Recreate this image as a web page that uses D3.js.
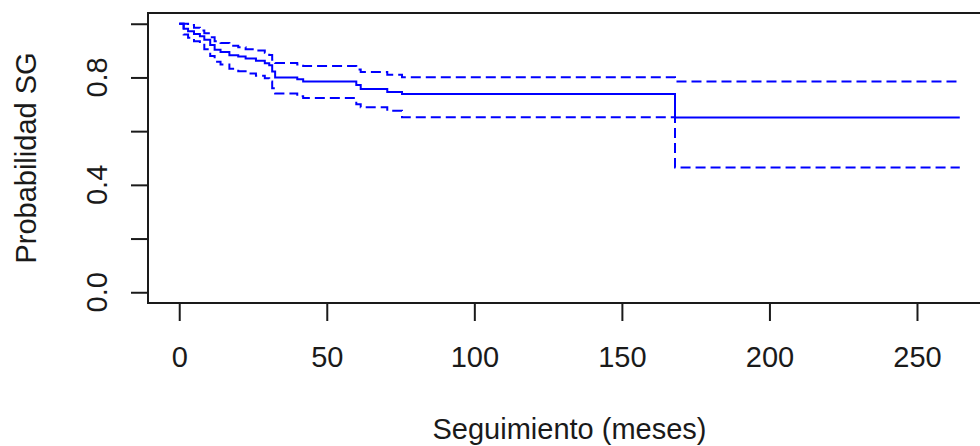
<!DOCTYPE html>
<html>
<head>
<meta charset="utf-8">
<script src="https://cdn.jsdelivr.net/npm/d3@7"></script>
<style>
  html, body { margin: 0; padding: 0; background: #fff; }
  svg { display: block; font-family: "Liberation Sans", Arial, sans-serif; }
</style>
</head>
<body>
<svg id="chart" width="980" height="446"></svg>
<script>
// Kaplan-Meier estimate with 95% CI (step times in months)
const times = [0, 1.5, 3, 5, 7, 8.5, 10.5, 12, 14, 17, 20, 22.5, 26, 29, 30.5, 31.5, 32.5, 40, 42, 60, 61.5, 70.5, 75.5, 168];
const surv  = [1.0, 0.981, 0.972, 0.962, 0.953, 0.940, 0.921, 0.903, 0.895, 0.883, 0.878, 0.871, 0.862, 0.853, 0.845, 0.822, 0.800, 0.793, 0.785, 0.772, 0.757, 0.746, 0.738, 0.651];
const upper = [1.0, 1.0, 0.995, 0.985, 0.975, 0.965, 0.950, 0.935, 0.928, 0.918, 0.912, 0.905, 0.900, 0.892, 0.884, 0.866, 0.854, 0.848, 0.843, 0.830, 0.820, 0.810, 0.801, 0.785];
const lower = [1.0, 0.960, 0.948, 0.935, 0.922, 0.905, 0.880, 0.858, 0.848, 0.832, 0.823, 0.815, 0.806, 0.797, 0.785, 0.760, 0.740, 0.730, 0.723, 0.700, 0.689, 0.676, 0.652, 0.465];
const lastTime = 264.5;

const xTicks = [0, 50, 100, 150, 200, 250];
const yTicks = [0, 0.2, 0.4, 0.6, 0.8, 1.0];
const yTickLabels = { 0: "0.0", 0.4: "0.4", 0.8: "0.8" };

const xTitle = "Seguimiento (meses)";
const yTitle = "Probabilidad SG";

const svg = d3.select("#chart");
const margin = { left: 148, top: 13 };
const plotW = 843, plotH = 290;
const fontSize = 29;
const ink = "#1a1a1a";
const blue = "#0000ff";

// R style: extend range by 4% each side
const xScale = d3.scaleLinear()
  .domain([-0.04 * lastTime, lastTime * 1.04])
  .range([margin.left, margin.left + plotW]);
const yScale = d3.scaleLinear()
  .domain([-0.04, 1.04])
  .range([margin.top + plotH, margin.top]);

const g = svg.append("g");

// curves
const stepLine = d3.line()
  .x(d => xScale(d[0]))
  .y(d => yScale(d[1]))
  .curve(d3.curveStepAfter);

function series(vals) {
  const pts = times.map((t, i) => [t, vals[i]]);
  pts.push([lastTime, vals[vals.length - 1]]);
  return pts;
}

[upper, lower].forEach(v => {
  g.append("path")
    .attr("d", stepLine(series(v)))
    .attr("fill", "none")
    .attr("stroke", blue)
    .attr("stroke-width", 2)
    .attr("stroke-dasharray", "10,5");
});
g.append("path")
  .attr("d", stepLine(series(surv)))
  .attr("fill", "none")
  .attr("stroke", blue)
  .attr("stroke-width", 2);

// box
g.append("rect")
  .attr("x", margin.left)
  .attr("y", margin.top)
  .attr("width", plotW)
  .attr("height", plotH)
  .attr("fill", "none")
  .attr("stroke", ink)
  .attr("stroke-width", 2);

// x axis
const xAxis = g.append("g")
  .attr("transform", `translate(0,${margin.top + plotH})`)
  .call(d3.axisBottom(xScale).tickValues(xTicks).tickSize(18).tickPadding(0).tickFormat(d3.format("d")));
xAxis.select(".domain").remove();
xAxis.selectAll(".tick line").attr("stroke", ink).attr("stroke-width", 2);
xAxis.selectAll(".tick text")
  .attr("fill", ink)
  .attr("font-size", fontSize)
  .attr("font-family", "Liberation Sans, Arial, sans-serif")
  .attr("dy", null)
  .attr("y", 64);

// y axis
const yAxis = g.append("g")
  .attr("transform", `translate(${margin.left},0)`)
  .call(d3.axisLeft(yScale).tickValues(yTicks).tickSize(17).tickFormat(""));
yAxis.select(".domain").remove();
yAxis.selectAll(".tick line").attr("stroke", ink).attr("stroke-width", 2);

g.selectAll(".ylab")
  .data(yTicks.filter(d => yTickLabels[d] !== undefined))
  .enter()
  .append("text")
  .attr("class", "ylab")
  .attr("transform", d => `translate(107,${yScale(d)}) rotate(-90)`)
  .attr("text-anchor", "middle")
  .attr("fill", ink)
  .attr("font-size", fontSize)
  .text(d => yTickLabels[d]);

// titles
svg.append("text")
  .attr("x", margin.left + plotW / 2)
  .attr("y", 439)
  .attr("text-anchor", "middle")
  .attr("fill", ink)
  .attr("font-size", fontSize)
  .text(xTitle);

svg.append("text")
  .attr("transform", `translate(36,${margin.top + plotH / 2}) rotate(-90)`)
  .attr("text-anchor", "middle")
  .attr("fill", ink)
  .attr("font-size", fontSize)
  .text(yTitle);
</script>
</body>
</html>
